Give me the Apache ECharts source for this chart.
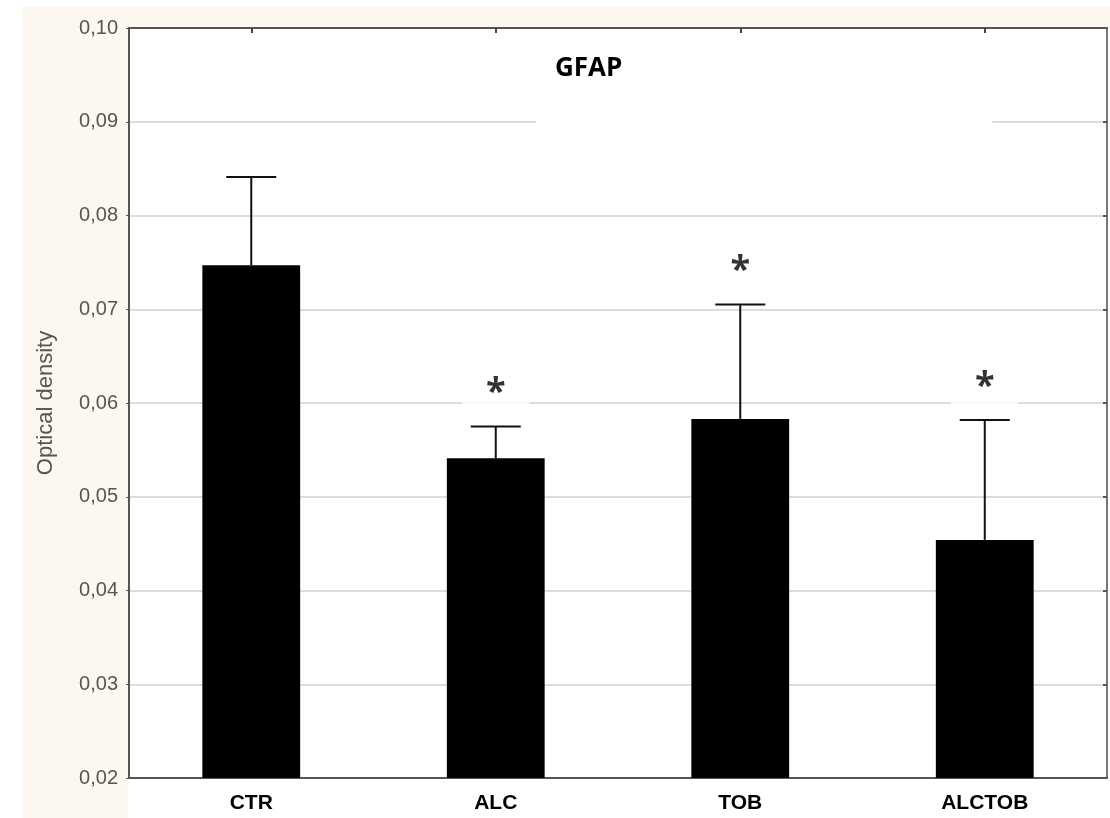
<!DOCTYPE html>
<html>
<head>
<meta charset="utf-8">
<script src="https://cdn.jsdelivr.net/npm/echarts@6/dist/echarts.min.js"></script>
<style>
html,body{margin:0;padding:0;background:#fff;}
#chart{width:1110px;height:818px;}
</style>
</head>
<body>
<div id="chart"></div>
<script>
var categories = ['CTR', 'ALC', 'TOB', 'ALCTOB'];
var means = [0.0747, 0.0541, 0.0583, 0.0454];
var upperErr = [0.0841, 0.0575, 0.0705, 0.0582];
var signif = ['', '*', '*', '*'];
var yTicks = {min: 0.02, max: 0.10, interval: 0.01};

var chart = echarts.init(document.getElementById('chart'), null, {renderer: 'canvas'});

var errData = categories.map(function (c, i) { return [i, means[i], upperErr[i]]; });
var starData = categories.map(function (c, i) { return [i, upperErr[i], signif[i]]; });

var option = {
  backgroundColor: '#ffffff',
  animation: false,
  graphic: [
    {type: 'rect', z: -10, silent: true, shape: {x: 22, y: 7, width: 106, height: 811}, style: {fill: '#fdf8ef'}},
    {type: 'rect', z: -10, silent: true, shape: {x: 22, y: 7, width: 1088, height: 21}, style: {fill: '#fdf8ef'}}
  ],
  title: {
    text: 'GFAP',
    left: 536,
    top: 34,
    backgroundColor: '#ffffff',
    padding: [22, 370, 45, 19],
    textStyle: {fontFamily: 'Open Sans', fontWeight: 'bold', fontSize: 26, color: '#000'}
  },
  grid: {left: 129, right: 3, top: 28, bottom: 40, containLabel: false, show: false},
  xAxis: [{
    type: 'category',
    data: categories,
    position: 'bottom',
    axisLine: {lineStyle: {color: '#555', width: 2}},
    axisTick: {show: false},
    axisLabel: {fontFamily: 'Arial, Liberation Sans', fontWeight: 'bold', fontSize: 21, color: '#000', margin: 15}
  }, {
    type: 'category',
    data: categories,
    position: 'top',
    axisLine: {lineStyle: {color: '#555', width: 2}},
    axisTick: {show: true, inside: true, alignWithLabel: true, length: 5, lineStyle: {color: '#444', width: 2}},
    axisLabel: {show: false}
  }],
  yAxis: [{
    type: 'value',
    min: yTicks.min,
    max: yTicks.max,
    interval: yTicks.interval,
    name: 'Optical density',
    nameLocation: 'middle',
    nameGap: 72,
    nameTextStyle: {fontFamily: 'Arial, Liberation Sans', fontSize: 22, color: '#555'},
    axisLine: {show: true, lineStyle: {color: '#555', width: 2}},
    axisTick: {show: true, length: 3, lineStyle: {color: '#555', width: 1}},
    axisLabel: {
      fontFamily: 'Arial, Liberation Sans', fontSize: 20, color: '#555', margin: 11,
      formatter: function (v) { return v.toFixed(2).replace('.', ','); }
    },
    splitLine: {show: true, lineStyle: {color: '#dcdcdc', width: 2}}
  }, {
    type: 'value',
    min: yTicks.min,
    max: yTicks.max,
    interval: yTicks.interval,
    position: 'right',
    axisLine: {show: true, lineStyle: {color: '#777', width: 2}},
    axisTick: {show: true, inside: true, length: 4, lineStyle: {color: '#555', width: 2}},
    axisLabel: {show: false},
    splitLine: {show: false}
  }],
  series: [{
    type: 'bar',
    data: means,
    barWidth: '40%',
    itemStyle: {color: '#000'},
    z: 2
  }, {
    type: 'custom',
    z: 3,
    data: errData,
    renderItem: function (params, api) {
      var x = api.value(0);
      var base = api.coord([x, api.value(1)]);
      var top = api.coord([x, api.value(2)]);
      var hw = 25;
      return {
        type: 'group',
        children: [
          {type: 'line', shape: {x1: top[0], y1: base[1], x2: top[0], y2: top[1]}, style: {stroke: '#111', lineWidth: 2}},
          {type: 'line', shape: {x1: top[0] - hw, y1: top[1], x2: top[0] + hw, y2: top[1]}, style: {stroke: '#111', lineWidth: 2}}
        ]
      };
    }
  }, {
    type: 'scatter',
    data: starData,
    symbolSize: 1,
    itemStyle: {color: 'rgba(0,0,0,0)'},
    z: 4,
    label: {
      show: true,
      position: 'top',
      distance: 3,
      formatter: function (p) { return p.value[2]; },
      fontFamily: 'Open Sans',
      fontWeight: 'bold',
      fontSize: 36,
      color: '#000',
      lineHeight: 36,
      backgroundColor: '#ffffff',
      padding: [4, 24, 12, 24]
    }
  }]
};
chart.setOption(option);
</script>
</body>
</html>
